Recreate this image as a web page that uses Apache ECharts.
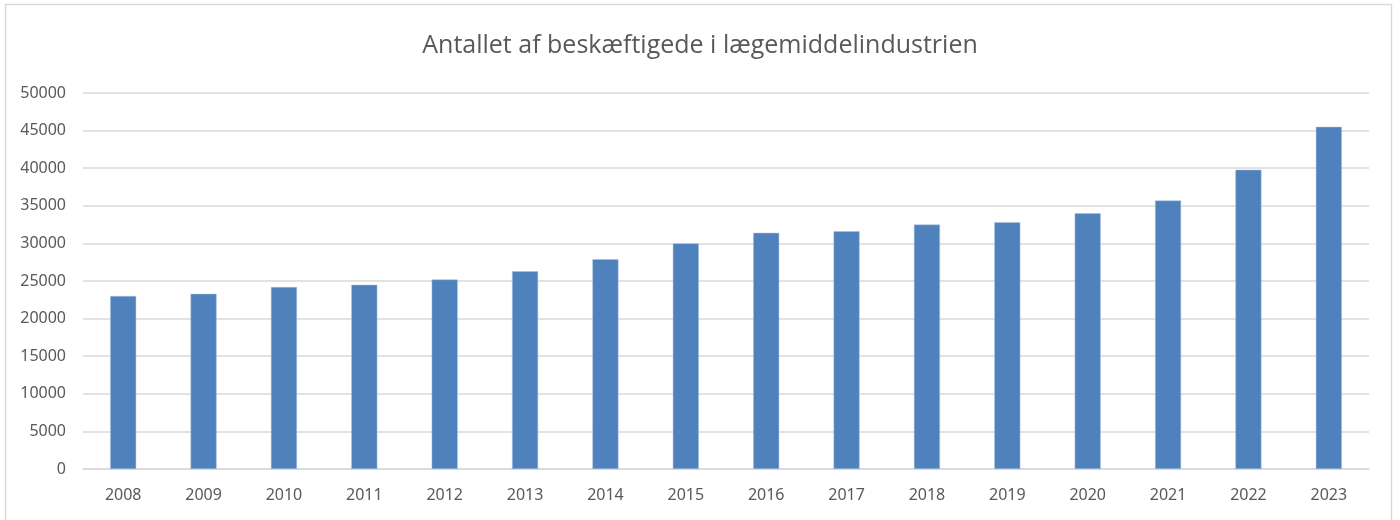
<!DOCTYPE html>
<html>
<head>
<meta charset="utf-8">
<script src="https://cdn.jsdelivr.net/npm/echarts@6/dist/echarts.min.js"></script>
<style>
  html, body { margin: 0; padding: 0; background: #fff; }
  #chart { width: 1400px; height: 520px; }
</style>
</head>
<body>
<div id="chart"></div>
<script>
var years = ['2008', '2009', '2010', '2011', '2012', '2013', '2014', '2015',
             '2016', '2017', '2018', '2019', '2020', '2021', '2022', '2023'];
var employees = [23000, 23300, 24200, 24500, 25200, 26300, 27900, 30000,
                 31400, 31600, 32500, 32800, 34000, 35700, 39800, 45500];
var yTicks = [0, 5000, 10000, 15000, 20000, 25000, 30000, 35000, 40000, 45000, 50000];

var myChart = echarts.init(document.getElementById('chart'));
var option = {
    animation: false,
    backgroundColor: '#fff',
    graphic: [{
        type: 'rect',
        shape: { x: 5.5, y: 4.5, width: 1386, height: 530 },
        style: { fill: 'none', stroke: '#d9d9d9', lineWidth: 1.5 },
        silent: true
    }],
    title: {
        text: 'Antallet af beskæftigede i lægemiddelindustrien',
        left: 'center',
        top: 28,
        textStyle: {
            fontFamily: 'Open Sans',
            fontWeight: 'normal',
            fontSize: 25,
            color: '#595959'
        }
    },
    grid: {
        left: 83,
        right: 31,
        top: 93,
        bottom: 51
    },
    xAxis: {
        type: 'category',
        data: years,
        axisLine: { lineStyle: { color: '#d9d9d9', width: 1.5 } },
        axisTick: { show: false },
        axisLabel: {
            color: '#595959',
            fontSize: 16,
            fontFamily: 'Noto Sans',
            margin: 18
        }
    },
    yAxis: {
        type: 'value',
        min: yTicks[0],
        max: yTicks[yTicks.length - 1],
        interval: yTicks[1] - yTicks[0],
        axisLine: { show: false },
        axisTick: { show: false },
        splitLine: { lineStyle: { color: '#d9d9d9', width: 1.5 } },
        axisLabel: {
            color: '#595959',
            fontSize: 16,
            fontFamily: 'Noto Sans',
            margin: 17,
            formatter: function (v) { return String(v); }
        }
    },
    series: [{
        type: 'bar',
        data: employees,
        barWidth: 26,
        itemStyle: {
            color: '#4f81bd',
            borderColor: '#a7c0de',
            borderWidth: 0.5
        }
    }]
};
myChart.setOption(option);
window.addEventListener('resize', function () {
    myChart.resize();
});
</script>
</body>
</html>
